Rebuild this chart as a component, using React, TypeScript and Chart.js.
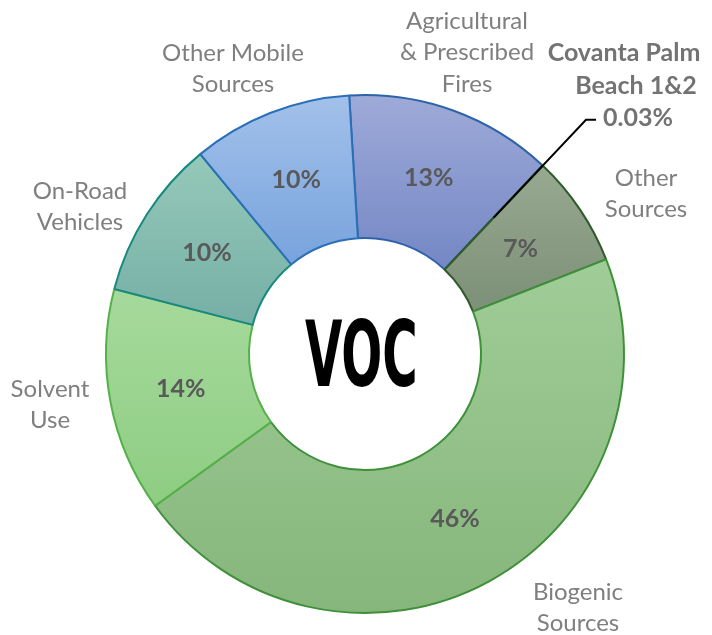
import React, { useEffect, useRef } from "react";
import { Chart, registerables } from "chart.js";

Chart.register(...registerables);

// ---- data ----
const categories = [
  "Agricultural & Prescribed Fires",
  "Covanta Palm Beach 1&2",
  "Other Sources",
  "Biogenic Sources",
  "Solvent Use",
  "On-Road Vehicles",
  "Other Mobile Sources",
];
const values = [13, 0.03, 7, 46, 14, 10, 10];
const labelLines = [
  ["Agricultural", "& Prescribed", "Fires"],
  ["Covanta Palm", "Beach 1&2"],
  ["Other", "Sources"],
  ["Biogenic", "Sources"],
  ["Solvent", "Use"],
  ["On-Road", "Vehicles"],
  ["Other Mobile", "Sources"],
];
const centerTitle = "VOC";
const highlightIndex = 1;

// ---- styles ----
const fillTop = ["#9eaad8", "#8e9e88", "#98a991", "#a0cd97", "#a6d99c", "#95c9b9", "#a2c1ea"];
const fillBottom = ["#7487c5", "#86987f", "#7c8f77", "#86b67c", "#8ecd82", "#76afa6", "#78a3dd"];
const borderColors = ["#2d63a8", "#2f5a2a", "#2f5a2a", "#3f903a", "#55b04a", "#17897e", "#2a6fb8"];
const BORDER_W = 2;
const CUTOUT = 0.448;
const ROTATION = -3.5;

const labelLayout = [
  { x: 467, y: 21 },
  { x: 628, y: 53 },
  { x: 646, y: 178 },
  { x: 578, y: 592 },
  { x: 50, y: 389 },
  { x: 80, y: 191 },
  { x: 233, y: 53 },
];
const LINE_H = 31.5;
const LABEL_FONT = '24px Lato, "Open Sans", sans-serif';
const PCT_FONT = 'bold 25px Lato, "Open Sans", sans-serif';

function sliceGradient(chart: any, i: number) {
  const area = chart.chartArea;
  if (!area) return fillTop[i];
  const total = values.reduce((a, b) => a + b, 0);
  let cum = 0;
  for (let k = 0; k < i; k++) cum += values[k];
  const a0 = ((-90 + ROTATION) * Math.PI) / 180 + (cum / total) * 2 * Math.PI;
  const a1 = a0 + (values[i] / total) * 2 * Math.PI;
  const cy = (area.top + area.bottom) / 2;
  const r = (Math.min(area.width, area.height) - BORDER_W) / 2;
  const ri = r * CUTOUT;
  let minY = Infinity;
  let maxY = -Infinity;
  for (let s = 0; s <= 60; s++) {
    const a = a0 + ((a1 - a0) * s) / 60;
    for (const rr of [r, ri]) {
      const y = cy + rr * Math.sin(a);
      minY = Math.min(minY, y);
      maxY = Math.max(maxY, y);
    }
  }
  if (maxY - minY < 1) maxY = minY + 1;
  const g = chart.ctx.createLinearGradient(0, minY, 0, maxY);
  g.addColorStop(0, fillTop[i]);
  g.addColorStop(1, fillBottom[i]);
  return g;
}

const labelsPlugin = {
  id: "vocLabels",
  afterDatasetsDraw(chart: any) {
    const ctx = chart.ctx;
    const meta = chart.getDatasetMeta(0);
    const total = values.reduce((a, b) => a + b, 0);
    const area = chart.chartArea;
    const cx = (area.left + area.right) / 2;
    const cy = (area.top + area.bottom) / 2;
    ctx.save();
    ctx.textAlign = "center";
    ctx.textBaseline = "middle";

    // percentage labels inside slices
    meta.data.forEach((arc: any, i: number) => {
      if (i === highlightIndex) return;
      const p = arc.getCenterPoint();
      ctx.font = PCT_FONT;
      ctx.fillStyle = "#595959";
      ctx.fillText(Math.round((values[i] / total) * 100) + "%", p.x, p.y);
    });

    // category labels outside
    labelLines.forEach((lines, i) => {
      const pos = labelLayout[i];
      if (i === highlightIndex) {
        ctx.font = PCT_FONT;
        ctx.fillStyle = "#737373";
        const pct = ((values[i] / total) * 100).toFixed(2) + "%";
        const all = [...lines, pct];
        const xs = [624, 636, 638];
        all.forEach((t, k) => ctx.fillText(t, xs[k], pos.y + k * 32.5));
        // leader line
        const arc = meta.data[i];
        const p = arc.getCenterPoint();
        const ang = Math.atan2(p.y - cy, p.x - cx);
        const ex = cx + 322 * Math.cos(ang);
        const ey = cy + 322 * Math.sin(ang);
        ctx.strokeStyle = "#000000";
        ctx.lineWidth = 2;
        ctx.beginPath();
        ctx.moveTo(p.x, p.y);
        ctx.lineTo(ex, ey);
        ctx.lineTo(ex + 10, ey);
        ctx.stroke();
        return;
      }
      ctx.font = LABEL_FONT;
      ctx.fillStyle = "#7f7f7f";
      lines.forEach((t, k) => ctx.fillText(t, pos.x, pos.y + k * LINE_H));
    });

    // center title
    ctx.font = 'bold 100px "DejaVu Sans Condensed", "DejaVu Sans", sans-serif';
    ctx.textAlign = "left";
    ctx.textBaseline = "alphabetic";
    const m = ctx.measureText(centerTitle);
    const L = m.actualBoundingBoxLeft;
    const R = m.actualBoundingBoxRight;
    const A = m.actualBoundingBoxAscent;
    const D = m.actualBoundingBoxDescent;
    const sx = 110 / (L + R);
    const sy = 69 / (A + D);
    ctx.translate(cx - 5, cy - 2);
    ctx.scale(sx, sy);
    ctx.fillStyle = "#000000";
    ctx.fillText(centerTitle, -(R - L) / 2, (A - D) / 2);
    ctx.restore();
  },
};

export default function App() {
  const canvasRef = useRef<HTMLCanvasElement | null>(null);

  useEffect(() => {
    const canvas = canvasRef.current;
    if (!canvas) return;
    const chart = new Chart(canvas, {
      type: "doughnut",
      data: {
        labels: categories,
        datasets: [
          {
            data: values,
            backgroundColor: (ctx: any) => sliceGradient(ctx.chart, ctx.dataIndex),
            borderColor: borderColors,
            borderWidth: BORDER_W,
          },
        ],
      },
      options: {
        responsive: false,
        animation: false,
        events: [],
        rotation: ROTATION,
        cutout: CUTOUT * 100 + "%",
        layout: { padding: { left: 105, right: 87, top: 94, bottom: 21 } },
        plugins: {
          legend: { display: false },
          tooltip: { enabled: false },
        },
      },
      plugins: [labelsPlugin],
    });
    return () => chart.destroy();
  }, []);

  return (
    <div style={{ position: "fixed", left: 0, top: 0, width: 712, height: 635, background: "#ffffff" }}>
      <canvas ref={canvasRef} width={712} height={635} style={{ display: "block" }} />
    </div>
  );
}
